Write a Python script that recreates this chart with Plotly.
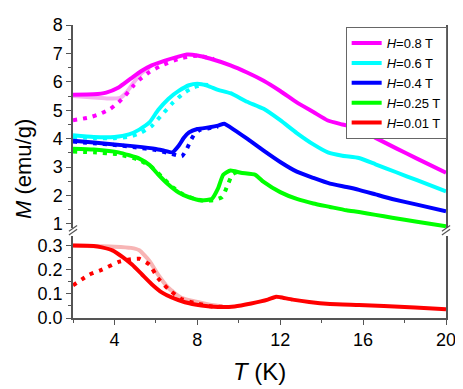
import plotly.graph_objects as go

# ---- data ----
# H = 0.8 T
t_08 = [2, 3.0, 3.6, 4.2, 4.8, 5.3, 5.8, 6.4, 7.0, 7.5, 8.0, 8.6, 9.6, 10.4, 11.2, 12.0, 12.8, 13.6, 14.3, 15.0, 15.7, 16.6, 17.6, 18.6, 20]
m_08 = [5.55, 5.56, 5.62, 5.8, 6.12, 6.38, 6.58, 6.74, 6.87, 6.96, 6.93, 6.82, 6.58, 6.33, 6.04, 5.68, 5.28, 4.94, 4.64, 4.5, 4.37, 4.03, 3.66, 3.3, 2.8]
t_08_dot = [2, 2.8, 3.3, 3.8, 4.2, 4.5, 4.9, 5.2, 5.7, 6.2, 7.1, 8.0, 8.8]
m_08_dot = [4.65, 4.75, 4.87, 5.05, 5.28, 5.5, 5.85, 6.07, 6.35, 6.55, 6.81, 6.92, 6.8]
t_08_pale = [2, 3.0, 3.7, 4.3, 4.6, 4.9, 5.3, 5.7]
m_08_pale = [5.5, 5.45, 5.41, 5.45, 5.65, 5.95, 6.3, 6.5]

# H = 0.6 T
t_06 = [2, 3, 4, 4.7, 5.2, 5.7, 6.1, 6.6, 7.1, 7.6, 8.0, 8.5, 9.0, 9.6, 10.4, 11.2, 12.0, 12.8, 13.6, 14.3, 15.0, 15.8, 16.6, 17.6, 18.6, 20]
m_06 = [4.12, 4.06, 4.06, 4.15, 4.32, 4.58, 5.0, 5.4, 5.68, 5.88, 5.93, 5.86, 5.72, 5.6, 5.3, 5.05, 4.65, 4.2, 3.8, 3.52, 3.4, 3.32, 3.1, 2.82, 2.54, 2.15]
t_06_dot = [2, 3, 4, 4.8, 5.3, 5.8, 6.3, 6.8, 7.3, 7.8, 8.3, 8.8]
m_06_dot = [4.06, 4.02, 4.02, 4.08, 4.22, 4.45, 4.85, 5.25, 5.58, 5.8, 5.9, 5.87]

# H = 0.4 T
t_04 = [2, 3, 4, 5, 6, 6.4, 6.8, 7.1, 7.35, 7.6, 8.0, 8.6, 9.0, 9.3, 9.6, 10.4, 11.2, 12.0, 12.8, 13.6, 14.4, 15.2, 15.8, 16.6, 17.4, 18.6, 20]
m_04 = [3.93, 3.87, 3.8, 3.73, 3.64, 3.58, 3.52, 3.75, 4.03, 4.22, 4.34, 4.4, 4.46, 4.53, 4.4, 4.0, 3.58, 3.18, 2.84, 2.62, 2.42, 2.3, 2.2, 2.04, 1.88, 1.68, 1.45]
t_04_dot = [2, 3, 4, 5, 6, 6.6, 7.0, 7.25, 7.48, 7.67, 7.85, 8.1, 8.5, 9.0]
m_04_dot = [3.9, 3.84, 3.78, 3.7, 3.6, 3.5, 3.42, 3.38, 3.62, 3.92, 4.15, 4.3, 4.36, 4.43]

# H = 0.25 T
t_025 = [2, 3, 4.2, 5.2, 5.7, 6.1, 6.6, 7.1, 7.6, 8.2, 8.7, 9.0, 9.25, 9.6, 10.1, 10.8, 11.2, 12.0, 12.8, 13.6, 14.4, 15.2, 15.8, 16.6, 17.4, 18.6, 20]
m_025 = [3.65, 3.62, 3.52, 3.3, 3.07, 2.75, 2.39, 2.11, 1.94, 1.83, 1.88, 2.25, 2.73, 2.88, 2.8, 2.73, 2.48, 2.12, 1.88, 1.72, 1.6, 1.48, 1.42, 1.32, 1.22, 1.08, 0.92]
t_025_dot = [2, 3, 4.2, 5.2, 5.8, 6.3, 6.8, 7.3, 7.8, 8.3, 8.8, 9.2, 9.45, 9.7, 10.0]
m_025_dot = [3.55, 3.52, 3.45, 3.25, 3.0, 2.65, 2.3, 2.05, 1.9, 1.82, 1.84, 1.95, 2.35, 2.75, 2.85]

# H = 0.01 T (lower panel)
t_001 = [2, 3.0, 3.4, 3.9, 4.4, 4.86, 5.33, 5.8, 6.3, 6.76, 7.4, 8.2, 9.0, 9.8, 10.6, 11.4, 11.8, 12.0, 12.6, 13.4, 14.4, 15.8, 17.0, 18.5, 20]
m_001 = [0.3, 0.298, 0.292, 0.28, 0.252, 0.22, 0.18, 0.14, 0.105, 0.085, 0.065, 0.052, 0.046, 0.048, 0.06, 0.076, 0.088, 0.086, 0.076, 0.066, 0.058, 0.054, 0.05, 0.043, 0.036]
t_001_dot = [2, 2.8, 3.4, 4.2, 4.8, 5.2, 5.7, 6.1, 6.6, 7.2, 7.9, 8.7, 9.3]
m_001_dot = [0.135, 0.18, 0.2, 0.232, 0.243, 0.245, 0.22, 0.165, 0.12, 0.08, 0.061, 0.048, 0.046]
t_001_pale = [2, 3.0, 4.0, 4.8, 5.2, 5.7, 6.1, 6.6, 7.2, 7.9, 8.6, 9.2]
m_001_pale = [0.3, 0.297, 0.295, 0.29, 0.28, 0.235, 0.18, 0.125, 0.085, 0.068, 0.055, 0.048]

FONT = "Liberation Sans, Arial, sans-serif"
W = 4

fig = go.Figure()

def add(t, m, color, yaxis, name=None, dash="solid", width=W):
    fig.add_trace(go.Scatter(
        x=t, y=m, mode="lines", yaxis=yaxis, xaxis="x",
        line=dict(color=color, width=width, dash=dash, shape="spline", smoothing=0.5),
        name=name, showlegend=name is not None, hoverinfo="skip"))

# pale traces underneath
add(t_08_pale, m_08_pale, "#f4b4f0", "y2")
add(t_001_pale, m_001_pale, "#f7b5b5", "y")

# dotted traces
dots = "4px,6px"
add(t_08_dot, m_08_dot, "#ff00ff", "y2", dash=dots)
add(t_06_dot, m_06_dot, "#00ffff", "y2", dash=dots)
add(t_04_dot, m_04_dot, "#0000ff", "y2", dash=dots)
add(t_025_dot, m_025_dot, "#00ff00", "y2", dash=dots)
add(t_001_dot, m_001_dot, "#ff0000", "y", dash=dots)

# solid traces (legend)
add(t_08, m_08, "#ff00ff", "y2", name="<i>H</i>=0.8 T")
add(t_06, m_06, "#00ffff", "y2", name="<i>H</i>=0.6 T")
add(t_04, m_04, "#0000ff", "y2", name="<i>H</i>=0.4 T")
add(t_025, m_025, "#00ff00", "y2", name="<i>H</i>=0.25 T")
add(t_001, m_001, "#ff0000", "y", name="<i>H</i>=0.01 T")

axcol = "#555555"
tickfont = dict(family=FONT, size=18, color="black")

# page body has an 8px margin, so the figure is 8px smaller and shifted
fig.update_layout(
    width=455, height=381,
    margin=dict(l=65, r=14, t=7, b=71),
    paper_bgcolor="white", plot_bgcolor="white",
    font=dict(family=FONT, color="black"),
    xaxis=dict(range=[2, 20], tick0=0, dtick=4, ticks="outside", ticklen=5,
               tickcolor=axcol, showline=True, linecolor=axcol, linewidth=1.5,
               showgrid=False, zeroline=False, tickfont=tickfont,
               minor=dict(ticks="outside", ticklen=3, dtick=2, tick0=0, tickcolor=axcol),
               anchor="y"),
    xaxis2=dict(range=[2, 20], matches="x", overlaying="x", side="top", anchor="y2",
                showline=True, linecolor=axcol, linewidth=1.5, ticks="",
                showticklabels=False, showgrid=False, zeroline=False),
    yaxis=dict(domain=[0, 0.2805], range=[0, 0.34], tickvals=[0, 0.1, 0.2, 0.3],
               tickformat=".1f", ticks="outside", ticklen=5, tickcolor=axcol,
               showline=True, mirror=True, linecolor=axcol, linewidth=1.5,
               showgrid=False, zeroline=False, tickfont=tickfont,
               minor=dict(ticks="outside", ticklen=3, tickvals=[0.05, 0.15, 0.25], tickcolor=axcol)),
    yaxis2=dict(domain=[0.307, 1], range=[0.857, 8], tickvals=[1, 2, 3, 4, 5, 6, 7, 8],
                ticks="outside", ticklen=5, tickcolor=axcol, anchor="x",
                showline=True, mirror=True, linecolor=axcol, linewidth=1.5,
                showgrid=False, zeroline=False, tickfont=tickfont,
                ticklabeloverflow="allow",
                minor=dict(ticks="outside", ticklen=3, dtick=0.5, tick0=0, tickcolor=axcol)),
    legend=dict(x=0.731, y=0.993, xanchor="left", yanchor="top",
                bgcolor="white", bordercolor="#666666", borderwidth=1,
                font=dict(family=FONT, size=13, color="black"),
                tracegroupgap=0, itemwidth=30),
    showlegend=True,
)

# axis titles
fig.add_annotation(text="<i>M</i> (emu/g)", xref="paper", yref="paper",
                   x=-0.133, y=0.51, xanchor="center", yanchor="middle",
                   textangle=-90, showarrow=False,
                   font=dict(family=FONT, size=22, color="black"))
fig.add_annotation(text="<i>T</i> (K)", xref="paper", yref="paper",
                   x=0.5, y=-0.182, xanchor="center", yanchor="middle", showarrow=False,
                   font=dict(family=FONT, size=24, color="black"))

# axis break marks
for xp in (0, 1):
    for dy in (0, 0.013):
        fig.add_shape(type="line", xref="paper", yref="paper",
                      x0=xp - 0.011, x1=xp + 0.011,
                      y0=0.283 + dy, y1=0.303 + dy,
                      line=dict(color=axcol, width=1.2))

fig.write_html("out.html")
